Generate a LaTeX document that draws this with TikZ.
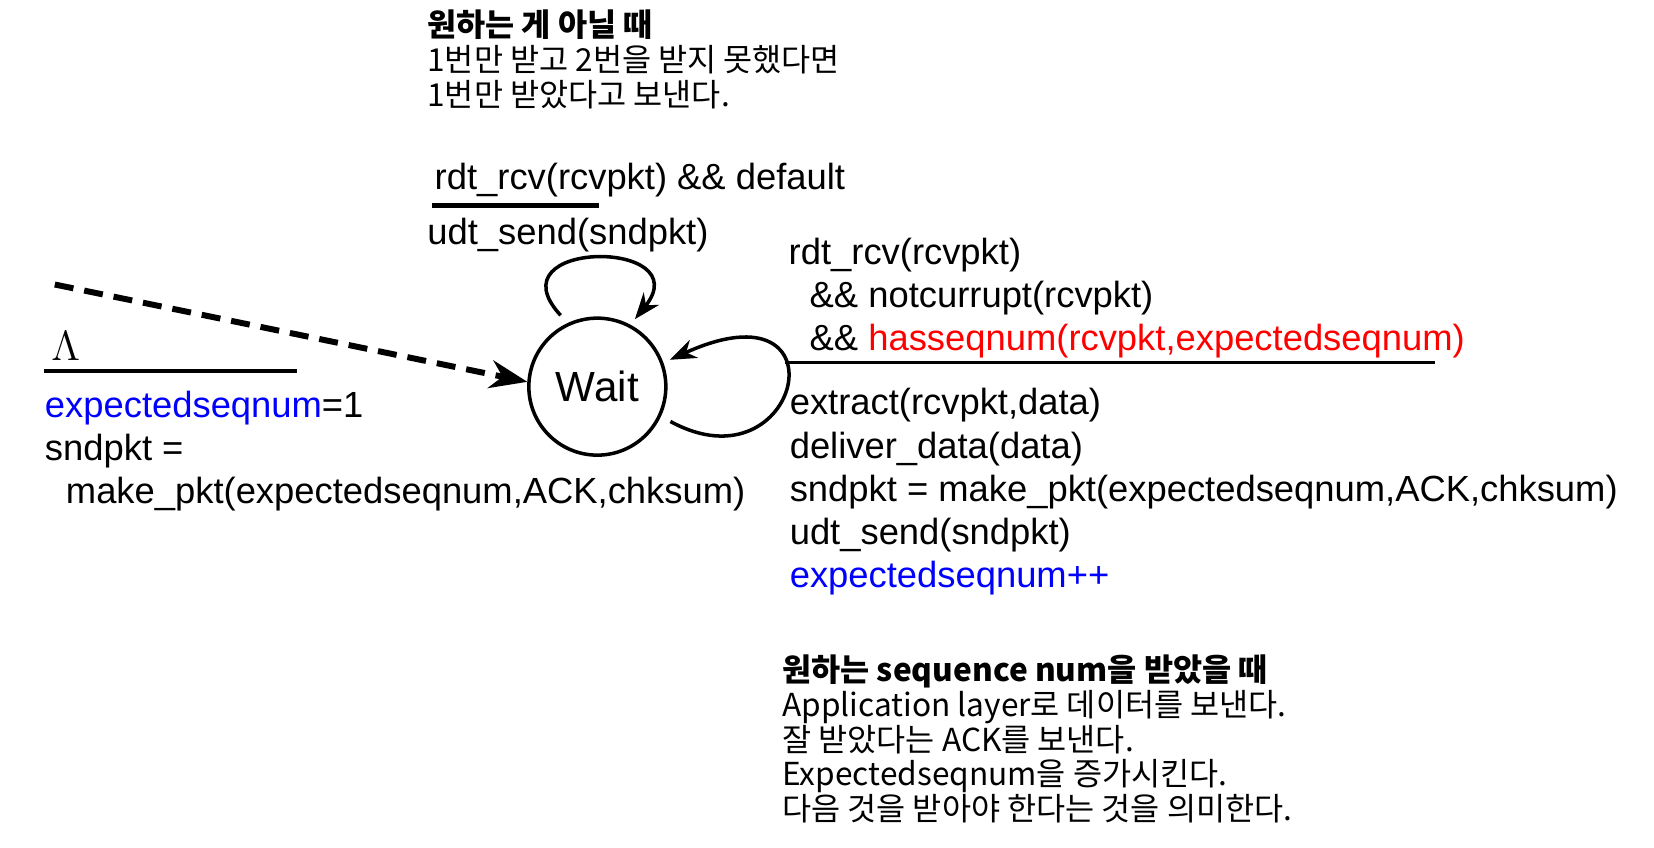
\documentclass[tikz,border=0pt]{standalone}
\usepackage{fontspec}
\setmainfont{Liberation Sans}
\newfontfamily\kofont{Noto Sans CJK KR}
\usepackage{xcolor}
\usepackage{tikz}
\usetikzlibrary{arrows.meta, positioning, calc}
\definecolor{seqblue}{RGB}{0, 0, 255}
\definecolor{seqred}{RGB}{255, 0, 0}
\tikzstyle{fsmstate} = [circle, draw, line width=1pt, minimum size=1.37cm, inner sep=0pt, font=\fontsize{12}{14}\selectfont]
\tikzstyle{action} = [anchor=base west, inner sep=0pt, align=left, font=\fontsize{10.35}{12.3}\selectfont]
\tikzstyle{note} = [anchor=base west, inner sep=0pt, align=left, font=\kofont\fontsize{9}{9.9}\selectfont]
\tikzstyle{guard} = [line width=1.3pt]
\tikzstyle{arrow} = [line width=1pt,->,>=Stealth]

\begin{document}
\begin{tikzpicture}[scale=1.0535]
    \useasboundingbox (0,0) rectangle (15.70,-8.04);

    % State
    \node[fsmstate] (wait) at (5.67,-3.67) {Wait};

    % Korean notes (placed at the baseline of their last line)
    \node[note] (note_top) at (4.05,-1.01) {\textbf{원하는 게 아닐 때}\\1번만 받고 2번을 받지 못했다면\\1번만 받았다고 보낸다.};
    \node[note] (note_bot) at (7.42,-7.79) {\textbf{원하는 sequence num을 받았을 때}\\Application layer로 데이터를 보낸다.\\잘 받았다는 ACK를 보낸다.\\Expectedseqnum을 증가시킨다.\\다음 것을 받아야 한다는 것을 의미한다.};

    % Initial transition
    \coordinate (init) at (0.52,-2.70);
    \node[action, font=\fontsize{11.5}{13}\selectfont] (lambda) at (0.48,-3.42) {$\Lambda$};
    \coordinate (init_l) at (0.42,-3.52);
    \coordinate (init_r) at (2.82,-3.52);
    \node[action] (init_act) at (0.42,-4.78) {\textcolor{seqblue}{expectedseqnum}=1\\sndpkt =\\\hspace{0.21cm}make\_pkt(expectedseqnum,ACK,chksum)};

    % Default transition
    \node[action] (dflt_guard) at (4.12,-1.80) {rdt\_rcv(rcvpkt) \&\& default};
    \coordinate (dflt_l) at (4.10,-1.95);
    \coordinate (dflt_r) at (5.68,-1.95);
    \node[action] (dflt_act) at (4.05,-2.32) {udt\_send(sndpkt)};

    % In-order transition
    \node[action] (ok_guard) at (7.48,-3.33) {rdt\_rcv(rcvpkt)\\\hspace{0.21cm}\&\& notcurrupt(rcvpkt)\\\hspace{0.21cm}\&\& \textcolor{seqred}{hasseqnum(rcvpkt,expectedseqnum)}};
    \coordinate (ok_l) at (7.45,-3.44);
    \coordinate (ok_r) at (13.62,-3.44);
    \node[action] (ok_act) at (7.49,-5.58) {extract(rcvpkt,data)\\deliver\_data(data)\\sndpkt = make\_pkt(expectedseqnum,ACK,chksum)\\udt\_send(sndpkt)\\\textcolor{seqblue}{expectedseqnum++}};

    % Guard lines
    \draw[guard] (init_l) -- (init_r);
    \draw[guard] (dflt_l) -- (dflt_r);
    \draw[guard, line width=1pt] (ok_l) -- (ok_r);

    % Arrows
    \draw[arrow, line width=1.7pt, dash pattern=on 0.19cm off 0.11cm] (init) -- (wait.176);
    \draw[arrow, shorten <=3pt, shorten >=2pt] (wait.115) .. controls +(-0.74,0.80) and +(0.66,0.82) .. (wait.62);
    \draw[arrow, shorten <=3pt, shorten >=2pt] (wait.-25) .. controls +(1.32,-0.72) and +(1.76,0.80) .. (wait.20);
\end{tikzpicture}
\end{document}
